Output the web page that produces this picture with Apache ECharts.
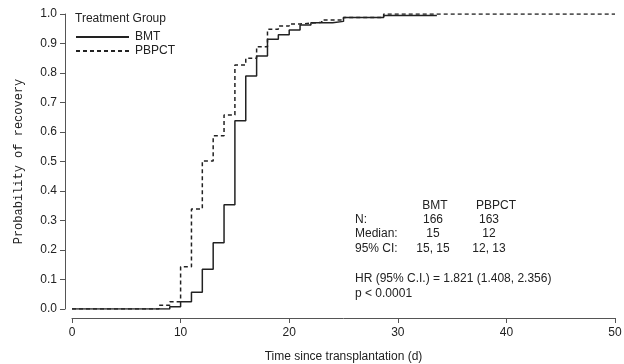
<!DOCTYPE html>
<html>
<head>
<meta charset="utf-8">
<script src="https://cdn.jsdelivr.net/npm/echarts@6/dist/echarts.min.js"></script>
<style>
  html, body { margin: 0; padding: 0; background: #fff; }
</style>
</head>
<body>
<div id="mycharts" style="width: 624px; height: 364px"></div>
<script>
// Kaplan-Meier steps
const bmtDays = [0, 9, 10, 11, 12, 13, 14, 15, 16, 17, 18, 19, 20, 21, 22, 24, 25, 28.7, 33.6];
const bmtProb = [0, 0.008, 0.025, 0.057, 0.135, 0.225, 0.353, 0.638, 0.79, 0.858, 0.914, 0.93, 0.946, 0.963, 0.97, 0.975, 0.988, 0.995, 0.995];

const pbpctDays = [0, 8, 9, 10, 11, 12, 13, 14, 15, 16, 17, 18, 19, 20, 21, 23, 25, 28.7, 50];
const pbpctProb = [0, 0.013, 0.025, 0.143, 0.339, 0.502, 0.587, 0.658, 0.827, 0.85, 0.889, 0.948, 0.959, 0.966, 0.972, 0.98, 0.988, 1.0, 1.0];

const groupNames = ["BMT", "PBPCT"];
const statLabels = ["N:", "Median:", "95% CI:"];
const bmtStats = ["166", "15", "15, 15"];
const pbpctStats = ["163", "12", "12, 13"];
const hrText = "HR (95% C.I.) = 1.821 (1.408, 2.356)";
const pText = "p < 0.0001";

const font = "'Liberation Sans', Arial, sans-serif";
const ink = "#222";

var chartDom = document.getElementById("mycharts");
var myChart = echarts.init(chartDom);

const pairs = (xs, ys) => xs.map((x, i) => [x, ys[i]]);

// stats block as plain text graphics
const rowY = [220, 234, 249];
const txt = (x, y, s, align) => ({
  type: "text", x: x, y: y,
  style: { text: s, fill: ink, font: "12px " + font, textAlign: align || "left", textVerticalAlign: "middle" },
});
const graphics = [
  txt(435, 206, groupNames[0], "center"),
  txt(496, 206, groupNames[1], "center"),
];
statLabels.forEach((lab, i) => {
  graphics.push(txt(355, rowY[i], lab));
  graphics.push(txt(433, rowY[i], bmtStats[i], "center"));
  graphics.push(txt(489, rowY[i], pbpctStats[i], "center"));
});
graphics.push(txt(355, 279, hrText));
graphics.push(txt(355, 294, pText));

var option = {
  animation: false,
  title: {
    text: "Treatment Group",
    left: 70, top: 8,
    textStyle: { fontSize: 12, fontWeight: "normal", color: ink, fontFamily: font },
  },
  legend: {
    orient: "vertical",
    left: 70, top: 26,
    itemWidth: 53, itemHeight: 14, itemGap: 2,
    itemStyle: { opacity: 0 },
    textStyle: { fontSize: 12, color: ink, fontFamily: font, padding: [0, 0, 0, 1] },
    data: groupNames,
  },
  grid: { left: 72, right: 9, top: 14, bottom: 55, outerBoundsMode: "none" },
  xAxis: {
    type: "value", min: 0, max: 50, interval: 10, offset: 9,
    name: "Time since transplantation (d)",
    nameLocation: "middle", nameGap: 33,
    nameTextStyle: { fontSize: 12, color: ink, fontFamily: font },
    axisLine: { show: true, onZero: false, lineStyle: { color: "#555" } },
    axisTick: { show: true, length: 5, lineStyle: { color: "#555" } },
    axisLabel: { fontSize: 12, color: ink, fontFamily: font, margin: 9 },
    splitLine: { show: false },
  },
  yAxis: {
    type: "value", min: 0, max: 1, interval: 0.1, offset: 7,
    name: "Probability of recovery",
    nameLocation: "middle", nameRotate: 90, nameGap: 40,
    nameTextStyle: { fontSize: 12, color: ink, fontFamily: "'Liberation Mono', 'DejaVu Sans Mono', monospace" },
    axisLine: { show: true, onZero: false, lineStyle: { color: "#555" } },
    axisTick: { show: true, length: 5, lineStyle: { color: "#555" } },
    axisLabel: { fontSize: 12, color: ink, fontFamily: font, margin: 8, formatter: (v) => v.toFixed(1) },
    splitLine: { show: false },
  },
  series: [
    {
      name: groupNames[0], type: "line", step: "end", symbol: "none",
      lineStyle: { color: "#222", width: 1.5, type: "solid" },
      itemStyle: { color: "#222" },
      data: pairs(bmtDays, bmtProb),
    },
    {
      name: groupNames[1], type: "line", step: "end", symbol: "none",
      lineStyle: { color: "#222", width: 1.5, type: [4, 3] },
      itemStyle: { color: "#222" },
      data: pairs(pbpctDays, pbpctProb),
    },
  ],
  graphic: graphics,
};

option && myChart.setOption(option);
</script>
</body>
</html>
